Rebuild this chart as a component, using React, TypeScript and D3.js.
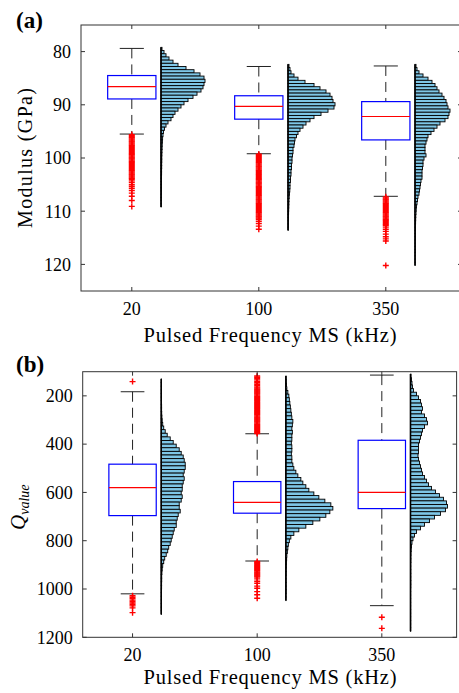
import React from "react";
import * as d3 from "d3";

// ---------- data ----------
const categories = ["20", "100", "350"];
const modulusTicks = [80, 90, 100, 110, 120];
const qTicks = [200, 400, 600, 800, 1000, 1200];

// Modulus (GPa) box statistics per category
const modQ1 = [84.5, 88.3, 89.4];
const modMedian = [86.6, 90.3, 92.2];
const modQ3 = [88.9, 92.7, 96.6];
const modWhiskerLo = [79.4, 82.8, 82.7];
const modWhiskerHi = [95.5, 99.2, 107.2];

// Q value box statistics per category
const qQ1 = [483, 555, 384];
const qMedian = [580, 641, 600];
const qQ3 = [696, 686, 667];
const qWhiskerLo = [183, 357, 114];
const qWhiskerHi = [1020, 884, 1069];

// Modulus histograms (bin start, bin width 0.6 GPa)
const modHistStart = [79.2, 82.4, 82.4];
const modBin = 0.6;
const modHist20 = [1, 3, 5, 8, 12, 17, 25, 33, 39, 43, 44, 43, 42, 40, 36, 32, 27, 23, 20, 17, 14, 12, 10, 7, 5, 3.5, 2.5, 2, 1.6, 1.4, 1.2, 1.1, 1.0, 0.9, 0.8, 0.8, 0.7, 0.7, 0.6, 0.6, 0.5, 0.5, 0.5, 0.4, 0.4, 0.4, 0.3, 0.3, 0.3, 0.3];
const modHist100 = [1, 2, 3, 6, 10, 17, 26, 32, 38, 42, 44, 45, 47, 46, 40, 33, 26, 22, 18, 15, 12, 10, 8.5, 7, 6.5, 6, 5, 5, 4.5, 4, 4, 3.5, 3.5, 3, 3, 2.5, 2.5, 2, 2, 1.8, 1.5, 1.2, 1, 0.9, 0.8, 0.7, 0.6, 0.5, 0.5, 0.4, 0.4, 0.3];
const modHist350 = [1, 2, 4, 8, 13, 17, 20, 22, 24, 27, 29, 31, 32, 33, 35, 34, 33, 30, 25, 22, 19, 16, 13, 12, 11, 10, 10, 10, 11, 9, 8, 8, 7.5, 7, 7, 7, 6, 5.5, 5, 4.5, 4, 3, 2.5, 2, 1.5, 1.2, 1, 0.8, 0.7, 0.6, 0.5, 0.5, 0.4, 0.4, 0.4, 0.3, 0.3, 0.3, 0.3, 0.2, 0.2, 0.2, 0.2];

// Q value histograms (bin start, bin width 15)
const qHistStart = [130, 118, 110];
const qBin = 15;
const qHist20 = [0.3, 0.3, 0.3, 0.3, 0.3, 0.3, 0.3, 0.4, 0.4, 0.5, 0.7, 1, 1.5, 2.5, 4, 6, 9, 12, 15, 18, 20, 22, 23, 24, 24, 23, 22, 23, 22, 21, 21, 20, 21, 20, 18, 18, 19, 17, 16, 15, 15, 13, 12, 11, 10, 9, 7.5, 6.5, 5, 3.5, 2.5, 1.5, 1, 0.7, 0.5, 0.5, 0.4, 0.4, 0.3, 0.3, 0.3, 0.3, 0.3, 0.3, 0.3];
const qHist100 = [0.3, 0.4, 0.6, 1, 2, 3, 3.5, 4, 4.5, 5, 5.5, 6, 7, 6.5, 6, 6.5, 6, 6, 5.5, 6, 6, 5.5, 6, 6, 7, 8, 10, 12, 15, 17, 20, 23, 28, 33, 39, 45, 47, 44, 40, 34, 27, 20, 13, 8, 5, 3.5, 2.5, 2, 1.5, 1, 0.8, 0.6, 0.5, 0.4, 0.4, 0.3, 0.3, 0.3, 0.3, 0.3, 0.2, 0.2];
const qHist350 = [0.5, 1, 1.5, 2, 3, 6, 8, 10, 11, 12, 11, 14, 16, 17, 14, 12, 11, 10, 9, 8, 8, 8, 7.5, 8, 9, 10, 11, 12, 14, 16, 18, 21, 25, 29, 33, 36, 37, 35, 30, 24, 19, 14, 10, 6, 4, 2.5, 1.5, 1, 0.7, 0.5, 0.4, 0.4, 0.3, 0.3, 0.3, 0.3, 0.3, 0.3, 0.3, 0.2, 0.2, 0.2, 0.2, 0.2, 0.2, 0.2, 0.2, 0.2, 0.2, 0.2, 0.2];

// Outliers
const modOutliers20 = [95.6, 95.8, 96.0, 96.2, 96.4, 96.6, 96.8, 97.0, 97.2, 97.4, 97.6, 97.8, 98.0, 98.2, 98.4, 98.6, 98.8, 99.0, 99.2, 99.4, 99.6, 99.8, 100.0, 100.2, 100.4, 100.6, 100.8, 101.0, 101.2, 101.4, 101.6, 101.8, 102.0, 102.2, 102.4, 102.6, 102.8, 103.0, 103.2, 103.4, 103.6, 103.8, 104.0, 104.3, 104.6, 105.0, 105.3, 105.7, 106.1, 106.6, 107.2, 108.0, 109.1];
const modOutliers100 = [99.3, 99.5, 99.7, 99.9, 100.1, 100.3, 100.5, 100.7, 100.9, 101.1, 101.3, 101.5, 101.7, 101.9, 102.1, 102.3, 102.5, 102.7, 102.9, 103.1, 103.3, 103.5, 103.7, 103.9, 104.1, 104.3, 104.5, 104.7, 104.9, 105.1, 105.3, 105.5, 105.7, 105.9, 106.1, 106.3, 106.5, 106.7, 106.9, 107.1, 107.3, 107.5, 107.7, 107.9, 108.1, 108.3, 108.5, 108.7, 108.9, 109.1, 109.3, 109.5, 109.7, 109.9, 110.1, 110.3, 110.5, 110.7, 110.9, 111.1, 111.3, 111.5, 111.9, 112.3, 112.8, 113.4];
const modOutliers350 = [107.3, 107.5, 107.7, 107.9, 108.1, 108.3, 108.5, 108.7, 108.9, 109.1, 109.3, 109.5, 109.7, 109.9, 110.1, 110.3, 110.5, 110.7, 110.9, 111.1, 111.3, 111.5, 111.7, 111.9, 112.1, 112.3, 112.5, 112.7, 113.0, 113.4, 113.8, 114.3, 114.8, 115.2, 115.6, 120.2];
const qOutliers20 = [141, 1028, 1034, 1040, 1046, 1052, 1058, 1064, 1070, 1078, 1098];
const qOutliers100 = [118, 123, 128, 134, 140, 146, 152, 158, 164, 168, 172, 176, 180, 184, 188, 192, 196, 200, 204, 208, 212, 216, 220, 224, 228, 232, 236, 240, 244, 248, 252, 256, 260, 264, 268, 272, 276, 280, 284, 288, 292, 296, 300, 304, 308, 312, 316, 320, 324, 328, 332, 336, 340, 344, 348, 352, 356, 886, 890, 894, 898, 902, 906, 910, 914, 918, 922, 926, 930, 934, 938, 942, 946, 950, 958, 968, 976, 988, 997, 1011, 1024, 1038];
const qOutliers350 = [1117, 1163];

// ---------- drawing ----------
const W = 459;
const H = 693;
const FONT = '"Liberation Serif", "DejaVu Serif", "Noto Serif", serif';
const BOX_HALF = 0.19;
const CAP_HALF = 0.095;
const HIST_OFF = 0.23;

type PanelProps = {
  left: number; right: number; top: number; bottom: number;
  yDomain: [number, number]; ticks: number[];
  q1: number[]; med: number[]; q3: number[]; wLo: number[]; wHi: number[];
  histStart: number[]; bin: number; hists: number[][];
  outliers: number[][];
};

function Panel(p: PanelProps) {
  const x = d3.scaleLinear().domain([0.6, 3.6]).range([p.left, p.right]);
  const y = d3.scaleLinear().domain(p.yDomain).range([p.top, p.bottom]);
  const w = d3.scaleLinear().domain([0, 50]).range([0, 50]);
  const cats = categories.map((_, i) => i + 1);
  const tickLen = 4;
  return (
    <g>
      {cats.map((c, i) => {
        const base = x(c + HIST_OFF);
        const h = p.hists[i];
        const s = p.histStart[i];
        return (
          <g key={"h" + i}>
            {h.map((v, j) => {
              const y0 = y(s + j * p.bin);
              const y1 = y(s + (j + 1) * p.bin);
              return (
                <rect key={j} x={base} y={y0} width={w(v)} height={y1 - y0}
                  fill="#7ec6e6" stroke="#000" strokeWidth={0.9} />
              );
            })}
            <line x1={base} x2={base} y1={y(s)} y2={y(s + h.length * p.bin)} stroke="#000" strokeWidth={1.6} />
          </g>
        );
      })}
      {cats.map((c, i) => {
        const cx = x(c);
        const bh = x(c + BOX_HALF) - cx;
        const ch = x(c + CAP_HALF) - cx;
        return (
          <g key={"b" + i}>
            <line x1={cx} x2={cx} y1={y(p.wLo[i])} y2={y(p.q1[i])} stroke="#222" strokeWidth={1} strokeDasharray="10,6" />
            <line x1={cx} x2={cx} y1={y(p.q3[i])} y2={y(p.wHi[i])} stroke="#222" strokeWidth={1} strokeDasharray="10,6" />
            <line x1={cx - ch} x2={cx + ch} y1={y(p.wLo[i])} y2={y(p.wLo[i])} stroke="#222" strokeWidth={1} />
            <line x1={cx - ch} x2={cx + ch} y1={y(p.wHi[i])} y2={y(p.wHi[i])} stroke="#222" strokeWidth={1} />
            <rect x={cx - bh} y={y(p.q1[i])} width={2 * bh} height={y(p.q3[i]) - y(p.q1[i])} fill="none" stroke="#0000ff" strokeWidth={1.2} />
            <line x1={cx - bh} x2={cx + bh} y1={y(p.med[i])} y2={y(p.med[i])} stroke="#ff0000" strokeWidth={1.2} />
            {p.outliers[i].map((v, j) => (
              <path key={j} d={`M${cx - 3},${y(v)}h6M${cx},${y(v) - 3}v6`} stroke="#ff0000" strokeWidth={1.4} fill="none" />
            ))}
          </g>
        );
      })}
      <rect x={p.left} y={p.top} width={p.right - p.left} height={p.bottom - p.top} fill="none" stroke="#333" strokeWidth={1} />
      {p.ticks.map((t) => (
        <g key={"yt" + t}>
          <line x1={p.left} x2={p.left + tickLen} y1={y(t)} y2={y(t)} stroke="#333" />
          <line x1={p.right} x2={p.right - tickLen} y1={y(t)} y2={y(t)} stroke="#333" />
          <text x={p.left - 10} y={y(t)} dy="0.35em" textAnchor="end" style={{ fontFamily: FONT, fontSize: 18 }}>{t}</text>
        </g>
      ))}
      {cats.map((c, i) => (
        <g key={"xt" + i}>
          <line x1={x(c)} x2={x(c)} y1={p.top} y2={p.top + tickLen} stroke="#333" />
          <line x1={x(c)} x2={x(c)} y1={p.bottom} y2={p.bottom - tickLen} stroke="#333" />
          <text x={x(c)} y={p.bottom + 24} textAnchor="middle" style={{ fontFamily: FONT, fontSize: 18 }}>{categories[i]}</text>
        </g>
      ))}
    </g>
  );
}

export default function App() {
  return (
    <svg width={W} height={H} style={{ position: "absolute", left: 0, top: 0, background: "#fff" }}>
      <rect x={0} y={0} width={W} height={H} fill="#fff" />
      <Panel left={81} right={462} top={25} bottom={291} yDomain={[75, 125]} ticks={modulusTicks}
        q1={modQ1} med={modMedian} q3={modQ3} wLo={modWhiskerLo} wHi={modWhiskerHi}
        histStart={modHistStart} bin={modBin} hists={[modHist20, modHist100, modHist350]}
        outliers={[modOutliers20, modOutliers100, modOutliers350]} />
      <Panel left={82.7} right={456.6} top={371.7} bottom={637.3} yDomain={[100, 1200]} ticks={qTicks}
        q1={qQ1} med={qMedian} q3={qQ3} wLo={qWhiskerLo} wHi={qWhiskerHi}
        histStart={qHistStart} bin={qBin} hists={[qHist20, qHist100, qHist350]}
        outliers={[qOutliers20, qOutliers100, qOutliers350]} />
      <text x={16} y={28} style={{ fontFamily: FONT, fontSize: 23, fontWeight: "bold" }}>(a)</text>
      <text x={16} y={372} style={{ fontFamily: FONT, fontSize: 23, fontWeight: "bold" }}>(b)</text>
      <text transform="translate(32,158) rotate(-90)" textAnchor="middle" textLength={140} lengthAdjust="spacing" style={{ fontFamily: FONT, fontSize: 20 }}>Modulus (GPa)</text>
      <text x={270} y={341.5} textAnchor="middle" textLength={253} lengthAdjust="spacing" style={{ fontFamily: FONT, fontSize: 20.5 }}>Pulsed Frequency MS (kHz)</text>
      <text x={270} y={684} textAnchor="middle" textLength={253} lengthAdjust="spacing" style={{ fontFamily: FONT, fontSize: 20.5 }}>Pulsed Frequency MS (kHz)</text>
      <text transform="translate(25,530) rotate(-90)" style={{ fontFamily: FONT, fontStyle: "italic" }}>
        <tspan style={{ fontSize: 21 }}>Q</tspan>
        <tspan dy={4} style={{ fontSize: 14 }}>value</tspan>
      </text>
    </svg>
  );
}
